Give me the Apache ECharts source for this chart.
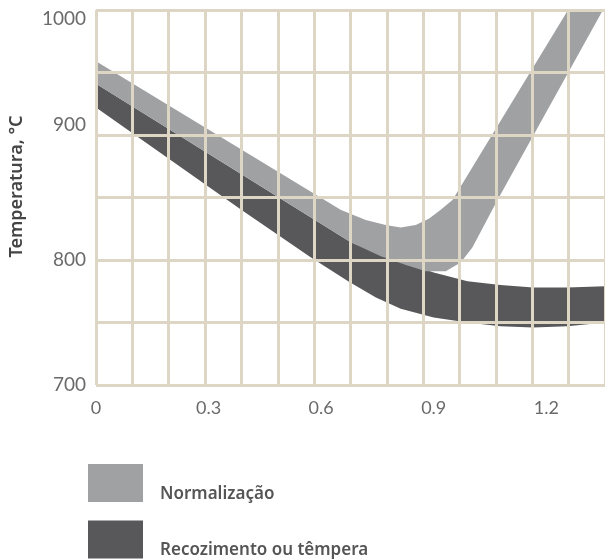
<!DOCTYPE html>
<html>
<head>
<meta charset="utf-8">
<script src="https://cdn.jsdelivr.net/npm/echarts@6/dist/echarts.min.js"></script>
<style>
  html, body { margin: 0; padding: 0; background: #ffffff; }
  #chart { width: 605px; height: 560px; }
</style>
</head>
<body>
<div id="chart"></div>
<script>
// Carbon content (%) vs. temperature (°C) ranges for heat treatment.
const seriesNames = ['Normalização', 'Recozimento ou têmpera'];

// Normalizing band: upper and lower edges as [carbon, temperature]
const normUpper = [
  [0, 959], [0.653, 840], [0.719, 832], [0.772, 828], [0.812, 826],
  [0.852, 828], [0.887, 833], [0.918, 840], [0.950, 848], [1.258, 1000]
];
const normLower = [
  [0, 941], [0.680, 814], [0.759, 803], [0.826, 796], [0.879, 791],
  [0.932, 791], [0.972, 798], [1.003, 810], [1.070, 848], [1.351, 1000]
];

// Annealing / hardening band
const annealUpper = [
  [0, 941], [0.680, 814], [0.759, 805], [0.812, 799], [0.900, 790],
  [0.990, 783], [1.078, 780], [1.165, 778], [1.256, 778], [1.3565, 779]
];
const annealLower = [
  [0, 922], [0.388, 840], [0.573, 802], [0.672, 783], [0.746, 770],
  [0.812, 761], [0.900, 754], [0.990, 750], [1.078, 747], [1.165, 746],
  [1.256, 747], [1.3565, 750]
];

const xTickValues = [0, 0.3, 0.6, 0.9, 1.2];
const yTickValues = [700, 800, 900, 1000];

const bandColors = ['#a0a1a3', '#58585a'];
const gridColor = '#ddd6c5';

// closed outline: upper edge left->right, lower edge right->left
function outline(upper, lower) {
  return upper.concat(lower.slice().reverse());
}

function bandRenderer(points) {
  return function (params, api) {
    if (params.dataIndex !== 0) return null;
    const pts = points.map(p => api.coord(p));
    return {
      type: 'polygon',
      shape: { points: pts },
      style: { fill: api.visual('color') }
    };
  };
}

const normPoly = outline(normUpper, normLower);
const annealPoly = outline(annealUpper, annealLower);

const chart = echarts.init(document.getElementById('chart'), null, { renderer: 'canvas' });

chart.setOption({
  animation: false,
  backgroundColor: '#ffffff',
  grid: { left: 94, right: 0, top: 10, bottom: 175, containLabel: false },
  legend: {
    orient: 'vertical',
    left: 88,
    top: 464,
    height: 200,
    padding: 0,
    itemWidth: 55,
    itemHeight: 38,
    itemGap: 18,
    icon: 'rect',
    selectedMode: false,
    data: [seriesNames[0], seriesNames[1]],
    formatter: function (name) { return '{t|' + name + '}'; },
    textStyle: {
      fontFamily: 'Noto Sans',
      fontSize: 17,
      fontWeight: 600,
      color: '#555555',
      rich: {
        t: {
          fontFamily: 'Noto Sans',
          fontSize: 17,
          fontWeight: 600,
          color: '#555555',
          padding: [22, 0, 0, 12]
        }
      }
    }
  },
  xAxis: [
    {
      type: 'value',
      min: 0,
      max: 1.3565,
      interval: 0.3,
      axisLine: { show: false },
      axisTick: { show: false },
      splitLine: { show: false },
      axisLabel: {
        margin: 14,
        fontFamily: 'Lato',
        fontSize: 18,
        color: '#6a6a6a',
        showMaxLabel: false,
        formatter: function (v) {
          const hit = xTickValues.find(t => Math.abs(t - v) < 1e-6);
          return hit === undefined ? '' : String(hit);
        }
      }
    },
    {
      // background lattice of vertical rules
      type: 'value',
      min: 0,
      max: 14,
      interval: 1,
      position: 'top',
      z: 10,
      axisLine: { show: false },
      axisTick: { show: false },
      axisLabel: { show: false },
      splitLine: { show: true, lineStyle: { color: gridColor, width: 3 } }
    }
  ],
  yAxis: {
    type: 'value',
    min: 700,
    max: 1000,
    interval: 50,
    z: 10,
    name: 'Temperatura, °C',
    nameLocation: 'middle',
    nameGap: 70,
    nameTextStyle: {
      fontFamily: 'Noto Sans',
      fontSize: 18,
      fontWeight: 600,
      color: '#444444',
      padding: [0, 0, 0, 22]
    },
    axisLine: { show: false },
    axisTick: { show: false },
    splitLine: { show: true, lineStyle: { color: gridColor, width: 3 } },
    axisLabel: {
      margin: 10,
      fontFamily: 'Lato',
      fontSize: 19,
      color: '#6a6a6a',
      formatter: function (v) {
        if (yTickValues.indexOf(v) < 0) return '';
        if (v === 1000) return '{lo|' + v + '}';
        if (v === 900) return '{hi|' + v + '}';
        return String(v);
      },
      rich: {
        lo: { fontFamily: 'Lato', fontSize: 19, color: '#6a6a6a', padding: [18, 0, 0, 0] },
        hi: { fontFamily: 'Lato', fontSize: 19, color: '#6a6a6a', padding: [0, 0, 20, 0] }
      }
    }
  },
  series: [
    {
      name: seriesNames[1],
      type: 'custom',
      xAxisIndex: 0,
      yAxisIndex: 0,
      itemStyle: { color: bandColors[1] },
      renderItem: bandRenderer(annealPoly),
      encode: { x: 0, y: 1 },
      data: annealPoly,
      z: 2
    },
    {
      name: seriesNames[0],
      type: 'custom',
      xAxisIndex: 0,
      yAxisIndex: 0,
      itemStyle: { color: bandColors[0] },
      renderItem: bandRenderer(normPoly),
      encode: { x: 0, y: 1 },
      data: normPoly,
      z: 3
    }
  ]
});
</script>
</body>
</html>
